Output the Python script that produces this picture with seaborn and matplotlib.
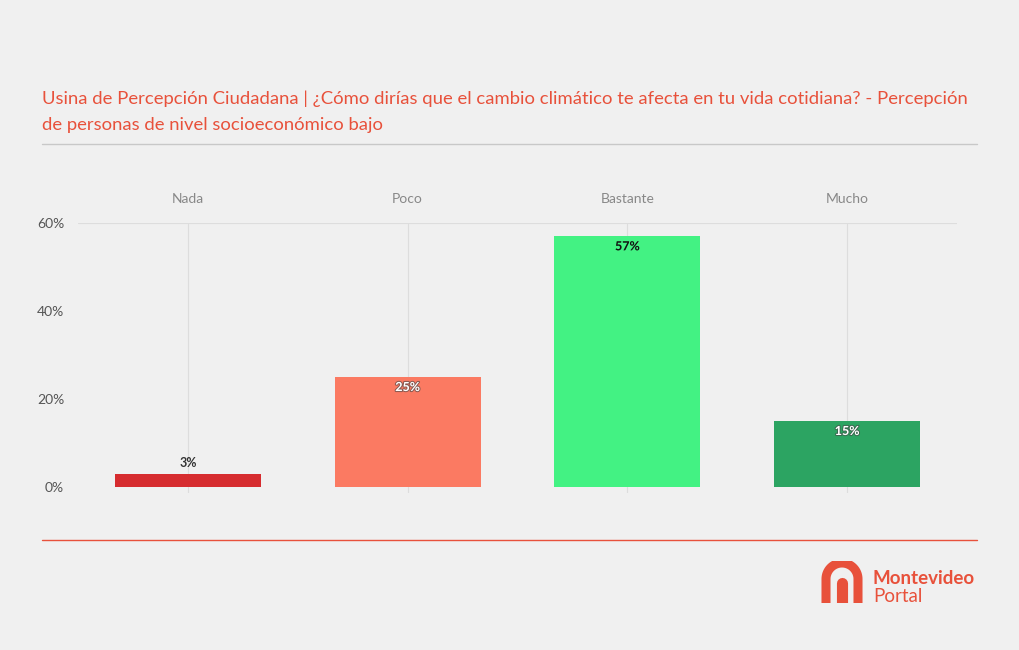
import numpy as np
import pandas as pd
import seaborn as sns
import matplotlib.pyplot as plt
import matplotlib.patheffects as pe
from matplotlib.lines import Line2D

# data
categories = ["Nada", "Poco", "Bastante", "Mucho"]
values = [3, 25, 57, 15]
bar_colors = ["#d62c2f", "#fb7a62", "#43f283", "#2ca462"]
label_colors = ["#333333", "white", "#111111", "white"]
yticks = [0, 20, 40, 60]

title = ("Usina de Percepción Ciudadana | ¿Cómo dirías que el cambio climático te afecta en tu vida cotidiana? - Percepción\n"
         "de personas de nivel socioeconómico bajo")

BG = "#f0f0f0"
RED = "#e8513b"


def main():
    sns.set_theme(style="white")
    plt.rcParams["font.family"] = ["Lato", "DejaVu Sans"]

    fig = plt.figure(figsize=(10.2, 6.5), dpi=100, facecolor=BG)
    ax = fig.add_axes([78 / 1020, 157 / 650, 879 / 1020, 270 / 650], facecolor=BG)

    df = pd.DataFrame({"cat": categories, "val": values})
    sns.barplot(data=df, x="cat", y="val", hue="cat", palette=bar_colors,
                width=0.665, legend=False, ax=ax, saturation=1, zorder=2,
                linewidth=0, edgecolor="none")

    ax.set_xlim(-0.5, 3.5)
    ax.set_ylim(-1.4, 60)
    ax.set_yticks(yticks)
    ax.set_yticklabels([f"{t}%" for t in yticks], color="#555555", fontsize=10)
    ax.tick_params(axis="y", length=0, pad=10)
    ax.xaxis.tick_top()
    ax.tick_params(axis="x", length=0, pad=13, labelsize=10, labelcolor="#888888")
    ax.set_xlabel("")
    ax.set_ylabel("")
    for s in ax.spines.values():
        s.set_visible(False)

    # light grid: vertical at each category, horizontal only at top
    for i in range(len(categories)):
        ax.axvline(i, color="#dddddd", lw=0.8, zorder=1)
    ax.axhline(60, color="#dddddd", lw=0.8, zorder=1)

    # value labels
    for i, (v, c, bc) in enumerate(zip(values, label_colors, bar_colors)):
        if v < 6:
            y, va = v + 1.0, "bottom"
        else:
            y, va = v - 2.3, "center"
        t = ax.text(i, y, f"{v}%", ha="center", va=va, fontsize=9,
                    fontweight="bold", color=c, zorder=3)
        if v >= 6:
            t.set_path_effects([pe.withStroke(linewidth=1.5, foreground=bc if c != "white" else "#444444", alpha=0.6)])

    # title and rules
    fig.text(42 / 1020, 1 - 112 / 650, title, ha="left", va="center",
             fontsize=13.3, color=RED, linespacing=1.75)
    fig.add_artist(Line2D([42 / 1020, 977 / 1020], [1 - 144 / 650] * 2,
                          color="#c8c8c8", lw=1))
    fig.add_artist(Line2D([42 / 1020, 977 / 1020], [1 - 540 / 650] * 2,
                          color=RED, lw=1))

    # logo
    lax = fig.add_axes([820 / 1020, 47 / 650, 44 / 1020, 42 / 650])
    lax.set_xlim(0, 44)
    lax.set_ylim(0, 42)
    lax.axis("off")
    th = np.linspace(0, np.pi, 60)
    xs = np.concatenate([[38], 22 + 16 * np.cos(th), [6]])
    ys = np.concatenate([[0], 24 + 16 * np.sin(th), [0]])
    lax.plot(xs, ys, color=RED, lw=6.5, solid_capstyle="butt")
    lax.plot([22, 22], [0, 20], color=RED, lw=8, solid_capstyle="round")
    fig.text(873 / 1020, 1 - 579 / 650, "Montevideo", fontsize=13.5,
             fontweight="bold", color=RED, va="center", ha="left")
    fig.text(873 / 1020, 1 - 597 / 650, "Portal", fontsize=13.5,
             color=RED, va="center", ha="left")

    fig.savefig("out.png", dpi=100, facecolor=BG)


if __name__ == "__main__":
    main()
